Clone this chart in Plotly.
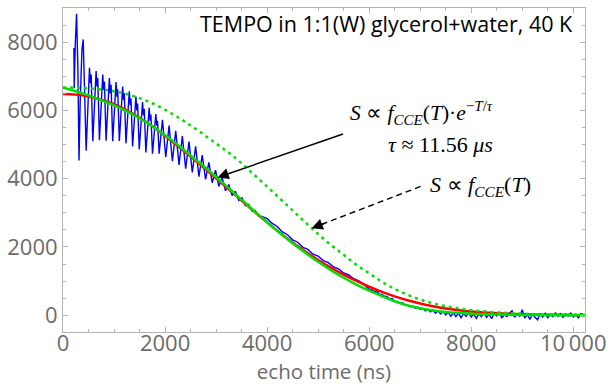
import plotly.graph_objects as go

# ---------------- data ----------------
fit_t = [0, 250, 500, 750, 1000, 1250, 1500, 1750, 2000, 2250, 2500, 2750, 3000, 3250, 3500,
         3750, 4000, 4250, 4500, 4750, 5000, 5250, 5500, 5750, 6000, 6250, 6500, 6750, 7000,
         7250, 7500, 7750, 8000, 8500, 9000, 9500, 10000, 10230]
red_fit = [6480, 6463, 6409, 6315, 6181, 6005, 5785, 5535, 5250, 4955, 4650, 4335, 4015, 3690,
           3360, 3035, 2720, 2420, 2130, 1865, 1620, 1395, 1190, 1005, 835, 685, 555, 440, 345,
           265, 200, 150, 110, 60, 32, 16, 8, 5]
green_solid = [6666, 6560, 6440, 6300, 6150, 5975, 5770, 5540, 5270, 4985, 4680, 4370, 4050,
               3720, 3385, 3050, 2725, 2410, 2110, 1830, 1565, 1320, 1100, 900, 720, 565, 410,
               290, 205, 140, 95, 65, 45, 22, 10, 4, 1, 0]
green_dashed = [6670, 6665, 6650, 6615, 6560, 6480, 6360, 6210, 6020, 5800, 5560, 5300, 5030,
                4760, 4450, 4110, 3770, 3420, 3070, 2720, 2380, 2060, 1770, 1480, 1230, 980,
                770, 600, 460, 350, 265, 200, 150, 85, 45, 22, 10, 7]

echo_t = [214, 220, 240, 266, 292, 314, 336, 372, 396, 420,
          454, 519, 537, 552, 584, 649, 667, 682, 714, 779, 797, 812, 844, 909, 927, 942,
          974, 1039, 1057, 1072, 1104, 1169, 1187, 1202, 1234, 1299, 1317, 1332, 1364,
          1429, 1447, 1462, 1494, 1559, 1577, 1592, 1624, 1689, 1707, 1722, 1754,
          1819, 1837, 1852, 1884, 1949, 2014, 2079, 2144, 2209, 2274,
          2339, 2404, 2469, 2534, 2599, 2664, 2729, 2794, 2859, 2924, 2989, 3054, 3119, 3184,
          3249, 3314, 3379, 3444, 3509, 3574, 3639, 3704, 3769, 3834, 3899,
          4000, 4100, 4200, 4300, 4400, 4500, 4600, 4700, 4800, 4900, 5000, 5100, 5200, 5300,
          5400, 5500, 5600, 5700, 5800, 5900,
          6000, 6050, 6100, 6150, 6200, 6250, 6300, 6350, 6400, 6450, 6500, 6550, 6600, 6650,
          6700, 6750, 6800, 6850, 6900, 6950, 7000, 7050, 7100, 7150, 7200, 7250, 7300, 7350,
          7400, 7450, 7500, 7550, 7600, 7650, 7700, 7750, 7800, 7850, 7900, 7950, 8000, 8050,
          8100, 8150, 8200, 8250, 8300, 8350, 8400, 8450, 8500, 8550, 8600, 8650, 8700, 8750,
          8800, 8850, 8900, 8950, 9000, 9050, 9100, 9150, 9200, 9250, 9300, 9350, 9400, 9450,
          9500, 9550, 9600, 9650, 9700, 9750, 9800, 9850, 9900, 9950, 10000, 10050, 10100,
          10150, 10200]
echo_signal = [7830, 6650, 7900, 8830, 7200, 4530, 6200, 7800, 8080, 6600,
               4819, 7252, 6800, 7050, 5097, 7152, 6700, 6950, 5129, 7050, 6600, 6850, 5115,
               6950, 6500, 6750, 5095, 6834, 6400, 6620, 5108, 6702, 6300, 6500, 5036,
               6562, 6150, 6350, 4945, 6408, 6000, 6200, 4860, 6246, 5850, 6050, 4771,
               6076, 5700, 5880, 4731, 5896, 5550, 5700, 4732, 5728, 4634, 5557, 4510, 5403,
               4406, 5246, 4297, 5088, 4187, 4945, 4063, 4691, 3979, 4477, 3883, 4249, 3775,
               4030, 3646, 3831, 3506, 3630, 3364, 3438, 3214, 3249, 3055, 3070, 2899, 2897,
               2830, 2690, 2600, 2440, 2360, 2210, 2140, 1990, 1930, 1790, 1730, 1600, 1540,
               1420, 1360, 1240, 1180, 1070, 1010, 900,
               760, 740, 700, 690, 620, 610, 560, 545, 480, 490, 420, 400, 350, 370,
               300, 310, 250, 270, 210, 240, 170, 200, 130, 180, 100, 150, 60, 130,
               40, 110, 10, 90, -30, 70, -40, 60, -70, 50, -30, 80, -50, 30,
               -90, 40, -40, 70, -60, 20, -100, 50, -20, 90, -70, 10, -40, 60,
               130, -60, 40, -30, 160, -80, 20, -120, 30, -60, -130, 40, -50, 60,
               -70, 30, -40, 70, -30, 50, -60, 40, -20, 60, -50, 30, -70,
               50, 10]

x_tickvals = [0, 2000, 4000, 6000, 8000, 10000]
x_ticktext = ["0", "2000", "4000", "6000", "8000", "10\u2009000"]
y_tickvals = [0, 2000, 4000, 6000, 8000]

# ---------------- figure ----------------
W, H = 613, 390
ML, MR, MT, MB = 62, 24, 7, 58
PW, PH = W - ML - MR, H - MT - MB


def px(x):
    return (x - ML) / PW


def py(y):
    return (H - MB - y) / PH


fig = go.Figure()
fig.add_trace(go.Scatter(x=echo_t, y=echo_signal, mode="lines",
                         line=dict(color="#0000ff", width=1.4), showlegend=False))
fig.add_trace(go.Scatter(x=fit_t, y=red_fit, mode="lines", line_shape="spline",
                         line=dict(color="#ff0000", width=2.5), showlegend=False))
fig.add_trace(go.Scatter(x=fit_t, y=green_solid, mode="lines", line_shape="spline",
                         line=dict(color="#00e000", width=2.5), showlegend=False))
fig.add_trace(go.Scatter(x=fit_t, y=green_dashed, mode="lines", line_shape="spline",
                         line=dict(color="#00e000", width=2.5, dash="3px,4px"), showlegend=False))

tick_font = dict(family="Open Sans", size=22, color="#6b6b6b")
axis_common = dict(showgrid=False, zeroline=False, showline=True, linecolor="#b4b4b4",
                   linewidth=1, mirror="ticks", ticks="inside", ticklen=5, tickcolor="#b4b4b4",
                   tickfont=tick_font)

fig.update_xaxes(range=[0, 10230], tickvals=x_tickvals, ticktext=x_ticktext,
                 ticklabelstandoff=-8,
                 minor=dict(dtick=500, ticks="inside", ticklen=3, tickcolor="#b4b4b4"),
                 title=dict(text="echo time (ns)", font=dict(family="Open Sans", size=20.5,
                                                             color="#6b6b6b"), standoff=6),
                 **axis_common)
fig.update_yaxes(range=[-490, 9000], tickvals=y_tickvals,
                 minor=dict(dtick=500, tick0=0, ticks="inside", ticklen=3, tickcolor="#b4b4b4"),
                 **axis_common)

serif = "Liberation Serif"
anns = [
    dict(x=px(579), y=py(23), xanchor="right", yanchor="middle",
         text="TEMPO in 1:1(W) glycerol+water, 40 K",
         font=dict(family="Open Sans", size=21.5, color="#000000")),
    dict(x=px(350), y=py(112), xanchor="left", yanchor="middle",
         text="<i>S</i> ∝ <i>f</i><sub><i>CCE</i></sub>(<i>T</i>)·<i>e</i><sup>−<i>T</i>/<i>τ</i></sup>",
         font=dict(family=serif, size=21.5, color="#000000")),
    dict(x=px(388), y=py(144), xanchor="left", yanchor="middle",
         text="<i>τ</i> ≈ 11.56 <i>μs</i>",
         font=dict(family=serif, size=22, color="#000000")),
    dict(x=px(430), y=py(186), xanchor="left", yanchor="middle",
         text="<i>S</i> ∝ <i>f</i><sub><i>CCE</i></sub>(<i>T</i>)",
         font=dict(family=serif, size=22, color="#000000")),
    # solid arrow
    dict(x=px(218), y=py(177), text="", showarrow=True, ax=127, ay=-44,
         arrowhead=2, arrowsize=1.6, arrowwidth=1.4, arrowcolor="#000000"),
    # head of dashed arrow
    dict(x=px(313), y=py(228), text="", showarrow=True, ax=14, ay=-5.4,
         arrowhead=2, arrowsize=1.6, arrowwidth=1.4, arrowcolor="#000000"),
]
for a in anns:
    a.setdefault("showarrow", False)
    a["xref"] = "paper"
    a["yref"] = "paper"
    fig.add_annotation(**a)

fig.add_shape(type="line", xref="paper", yref="paper",
              x0=px(423), y0=py(186), x1=px(322), y1=py(224.5),
              line=dict(color="#000000", width=1.4, dash="6px,4px"))

fig.update_layout(width=W, height=H, margin=dict(l=ML, r=MR, t=MT, b=MB),
                  paper_bgcolor="white", plot_bgcolor="white")

fig.write_html("out.html")
